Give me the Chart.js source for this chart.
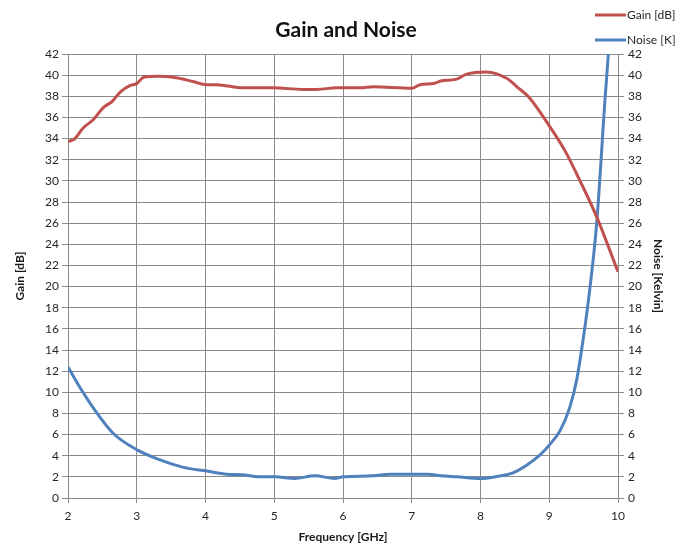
<!DOCTYPE html>
<html>
<head>
<meta charset="utf-8">
<script src="https://cdn.jsdelivr.net/npm/chart.js@4/dist/chart.umd.min.js"></script>
<style>
  html, body { margin: 0; padding: 0; background: #fff; }
  #wrap { width: 692px; height: 544px; }
</style>
</head>
<body>
<div id="wrap"><canvas id="myChart"></canvas></div>
<script>
const gainFreq = [2.0, 2.10, 2.22, 2.37, 2.51, 2.64, 2.76, 2.90, 3.0, 3.10, 3.31, 3.53, 3.82, 4.01, 4.16, 4.55, 4.98, 5.42, 5.62, 5.91, 6.25, 6.44, 7.0, 7.12, 7.32, 7.42, 7.64, 7.80, 8.09, 8.38, 8.53, 8.72, 8.96, 9.16, 9.25, 9.44, 9.69, 10.0];
const gainDb = [33.7, 34.0, 35.0, 35.8, 36.9, 37.5, 38.4, 39.0, 39.2, 39.8, 39.9, 39.8, 39.4, 39.1, 39.1, 38.8, 38.8, 38.65, 38.65, 38.8, 38.8, 38.9, 38.75, 39.1, 39.2, 39.45, 39.6, 40.1, 40.3, 39.7, 38.9, 37.8, 35.6, 33.6, 32.6, 30.1, 26.6, 21.4];

const noiseFreq = [2.0, 2.17, 2.37, 2.66, 3.02, 3.34, 3.68, 4.02, 4.31, 4.53, 4.79, 5.01, 5.30, 5.59, 5.88, 6.0, 6.44, 6.68, 7.0, 7.24, 7.42, 7.66, 8.0, 8.29, 8.48, 8.67, 8.87, 9.0, 9.16, 9.30, 9.40, 9.47, 9.57, 9.69, 9.81, 9.86];
const noiseK = [12.4, 10.5, 8.5, 6.1, 4.5, 3.6, 2.9, 2.55, 2.25, 2.2, 2.0, 2.0, 1.85, 2.1, 1.85, 2.0, 2.1, 2.25, 2.25, 2.25, 2.1, 2.0, 1.85, 2.1, 2.4, 3.1, 4.1, 5.0, 6.4, 8.6, 11.2, 14.0, 18.7, 26.0, 37.6, 42];

const seriesNames = ["Gain [dB]", "Noise [K]"];
const seriesColors = ["#c0504d", "#4f81bd"];

const FONT = "Lato, 'Open Sans', sans-serif";
const gridColor = "#8a8a8a";
const textColor = "#262626";

function toPoints(xs, ys) {
  let pts = [];
  for (let i = 0; i < xs.length; i++) {
    pts.push({ x: xs[i], y: ys[i] });
  }
  return pts;
}

// legend stacked in the top right corner
const cornerLegend = {
  id: "cornerLegend",
  afterDraw(chart) {
    const ctx = chart.ctx;
    ctx.save();
    ctx.font = "12px " + FONT;
    ctx.textBaseline = "middle";
    ctx.textAlign = "left";
    for (let i = 0; i < seriesNames.length; i++) {
      const y = 15 + i * 25;
      ctx.strokeStyle = seriesColors[i];
      ctx.lineWidth = 3;
      ctx.beginPath();
      ctx.moveTo(595, y);
      ctx.lineTo(626, y);
      ctx.stroke();
      ctx.fillStyle = textColor;
      ctx.fillText(seriesNames[i], 627, y);
    }
    ctx.restore();
  }
};

const ctx = document.getElementById("myChart");

new Chart(ctx, {
  type: "line",
  data: {
    datasets: [
      {
        label: seriesNames[0],
        data: toPoints(gainFreq, gainDb),
        borderColor: seriesColors[0],
        backgroundColor: seriesColors[0],
        borderWidth: 3,
        pointRadius: 0,
        cubicInterpolationMode: "monotone",
        yAxisID: "y",
      },
      {
        label: seriesNames[1],
        data: toPoints(noiseFreq, noiseK),
        borderColor: seriesColors[1],
        backgroundColor: seriesColors[1],
        borderWidth: 3,
        pointRadius: 0,
        cubicInterpolationMode: "monotone",
        yAxisID: "y1",
      },
    ],
  },
  plugins: [cornerLegend],
  options: {
    responsive: true,
    maintainAspectRatio: false,
    animation: false,
    layout: { padding: 0 },
    plugins: {
      legend: { display: false },
      tooltip: { enabled: false },
      title: {
        display: true,
        text: "Gain and Noise",
        color: "#111",
        font: { family: FONT, size: 21, weight: "bold" },
        padding: { top: 17.4, bottom: 11.4 },
      },
    },
    scales: {
      x: {
        type: "linear",
        min: 2,
        max: 10,
        afterFit: (s) => { s.height = 46; },
        ticks: { stepSize: 1, color: textColor, padding: 6, font: { family: FONT, size: 12 } },
        grid: { color: gridColor, tickLength: 5 },
        border: { color: gridColor },
        title: {
          display: true,
          text: "Frequency [GHz]",
          color: "#1a1a1a",
          font: { family: FONT, size: 12, weight: "bold" },
          padding: { top: 2, bottom: 0 },
        },
      },
      y: {
        position: "left",
        min: 0,
        max: 42,
        afterFit: (s) => { s.width = 68; },
        ticks: { stepSize: 2, color: textColor, padding: 3, font: { family: FONT, size: 12 } },
        grid: { color: gridColor, tickLength: 6 },
        border: { color: gridColor },
        title: {
          display: true,
          text: "Gain [dB]",
          color: "#1a1a1a",
          font: { family: FONT, size: 12, weight: "bold" },
          padding: { top: 12.8, bottom: 0 },
        },
      },
      y1: {
        position: "right",
        min: 0,
        max: 42,
        afterFit: (s) => { s.width = 74; },
        ticks: { stepSize: 2, color: textColor, padding: 4, font: { family: FONT, size: 12 } },
        grid: { drawOnChartArea: false, color: gridColor, tickLength: 6 },
        border: { color: gridColor },
        title: {
          display: true,
          text: "Noise [Kelvin]",
          color: "#1a1a1a",
          font: { family: FONT, size: 12, weight: "bold" },
          padding: { top: 26.8, bottom: 0 },
        },
      },
    },
  },
});
</script>
</body>
</html>
